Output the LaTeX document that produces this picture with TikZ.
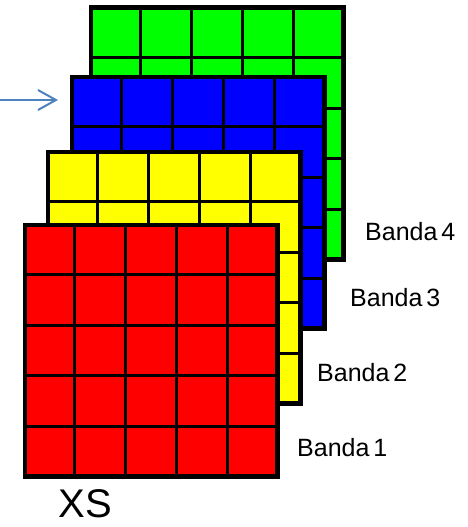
\documentclass[tikz,border=0pt]{standalone}
\usepackage{fontspec}
\setmainfont{Liberation Sans}
\usetikzlibrary{arrows.meta,calc}
\definecolor{gridgreen}{HTML}{00FF00}
\definecolor{gridblue}{HTML}{0000FF}
\definecolor{gridyellow}{HTML}{FFFF00}
\definecolor{gridred}{HTML}{FF0000}
\definecolor{arrowblue}{HTML}{4F81BD}
\tikzset{
  layer/.style={draw=black, line width=3pt, anchor=north west, inner sep=0pt,
                minimum width=251pt, minimum height=250pt},
  gridline/.style={draw=black, line width=3pt},
  bandlabel/.style={anchor=west, inner sep=0pt, font=\fontsize{25}{30}\selectfont},
  pointer/.style={draw=arrowblue, line width=2pt, -{Straight Barb[length=18pt, width=20pt, line width=2pt]}}
}
\newcommand{\drawlayer}[4]{%
  \node[layer, fill=#2] (#1) at (#3,#4) {};
  \foreach \f in {0.2,0.4,0.6,0.8}{
    \draw[gridline] ($(#1.north west)!\f!(#1.north east)$) -- ($(#1.south west)!\f!(#1.south east)$);
    \draw[gridline] ($(#1.north west)!\f!(#1.south west)$) -- ($(#1.north east)!\f!(#1.south east)$);
  }
  \draw[gridline] (#1.north west) rectangle (#1.south east);
}
\begin{document}
\begin{tikzpicture}[x=1pt,y=-1pt]
\useasboundingbox (0,0) rectangle (468,527);
\drawlayer{green}{gridgreen}{90}{7}
\drawlayer{blue}{gridblue}{71}{76}
\drawlayer{yellow}{gridyellow}{47}{151}
\drawlayer{red}{gridred}{24}{224}
\coordinate (arrowstart) at (0,100);
\coordinate (arrowend) at (58,100);
\draw[pointer] (arrowstart) -- (arrowend);
\node[bandlabel] (b4) at (365,232) {Banda\hspace{4pt}4};
\node[bandlabel] (b3) at (350,298) {Banda\hspace{4pt}3};
\node[bandlabel] (b2) at (317,373) {Banda\hspace{4pt}2};
\node[bandlabel] (b1) at (297,448) {Banda\hspace{4pt}1};
\node[inner sep=0pt, font=\fontsize{40}{46}\selectfont] (xs) at (85,504) {XS};
\end{tikzpicture}
\end{document}
